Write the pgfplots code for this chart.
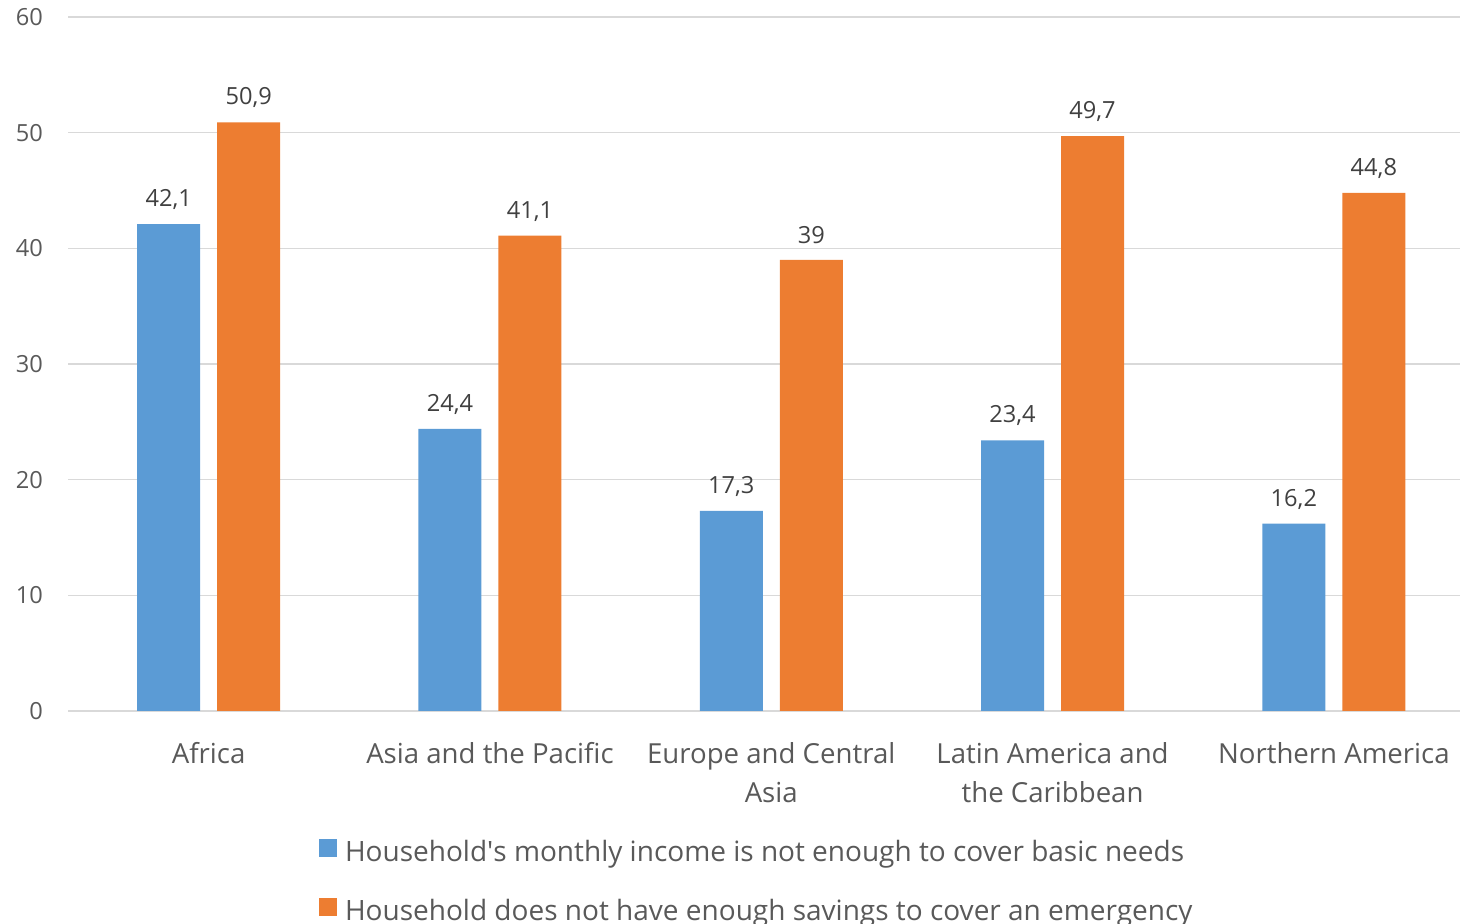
\documentclass[border=0pt]{standalone}
\usepackage{pgfplots}
\pgfplotsset{compat=1.18}
\usepackage{fontspec}
\setmainfont{Open Sans}

\definecolor{barblue}{HTML}{5B9BD5}
\definecolor{barorange}{HTML}{ED7D31}
\definecolor{gridgray}{HTML}{D9D9D9}
\definecolor{labelgray}{HTML}{595959}
\definecolor{valgray}{HTML}{404040}

\begin{document}
\begin{tikzpicture}
\begin{axis}[
at={(34pt,106.5pt)}, anchor=south west,
scale only axis,
width=703.25pt, height=347pt,
ybar=8.5pt, bar width=31.5pt,
xmin=-0.5, xmax=4.5,
ymin=0, ymax=60,
xtick={0,...,4},
xticklabels={Africa, Asia and the Pacific, {Europe and Central\\Asia}, {Latin America and\\the Caribbean}, Northern America},
ytick={0,10,...,60},
ymajorgrids,
grid style={draw=gridgray, line width=0.75pt},
axis line style={draw=none},
tick style={draw=none},
major tick length=0pt,
/pgf/number format/.cd, use comma, assume math mode=true, /pgfplots/.cd,
xticklabel style={align=center, font=\fontsize{13.8}{19.5}\selectfont, text=labelgray, yshift=-12pt},
yticklabel style={font=\fontsize{11.8}{14}\selectfont, text=labelgray, xshift=-9pt},
nodes near coords,
nodes near coords style={font=\fontsize{11.8}{14}\selectfont, text=valgray, anchor=center, yshift=12.2pt},
legend image code/.code={\fill[#1] (0pt,-0.8pt) rectangle (9pt,8.2pt);},
legend cell align=left,
legend style={at={(0.1785,-0.1844)}, anchor=north west, draw=none, fill=none,
  inner sep=0pt, outer sep=0pt,
  font=\fontsize{14}{16}\selectfont, text=labelgray,
  row sep=14.5pt,
  nodes={inner sep=0pt, text height=10pt, text depth=3.5pt},
  /tikz/every odd column/.append style={column sep=4pt}},
]
\addplot[fill=barblue, draw=none] coordinates {(0,42.1) (1,24.4) (2,17.3) (3,23.4) (4,16.2)};
\addplot[fill=barorange, draw=none] coordinates {(0,50.9) (1,41.1) (2,39) (3,49.7) (4,44.8)};
\legend{Household\textquotesingle s monthly income is not enough to cover basic needs, Household does not have enough savings to cover an emergency}
\end{axis}
\pgfresetboundingbox
\useasboundingbox (0,0) rectangle (730pt,462pt);
\end{tikzpicture}
\end{document}
